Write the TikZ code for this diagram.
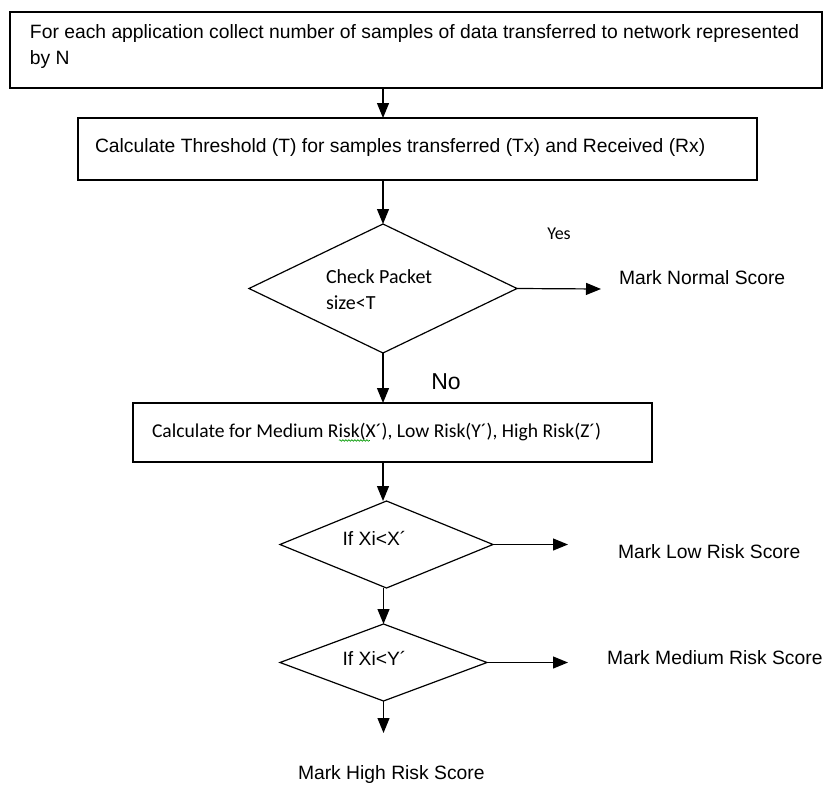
\documentclass[tikz,border=0pt]{standalone}
\usepackage{fontspec}
\setmainfont{Liberation Sans}
\newfontfamily\calib{Carlito}
\usetikzlibrary{arrows.meta,shapes.geometric,decorations.pathmorphing}
\begin{document}
\begin{tikzpicture}[x=1pt,y=-1pt,
  every node/.style={inner sep=0pt, outer sep=0pt},
  dec/.style={draw, diamond, line width=1.2pt, inner sep=0pt},
  box/.style={draw, line width=1.2pt},
  arr/.style={line width=1.2pt, -{Triangle[length=15pt,width=12pt]}},
  ar/.style={font=\fontsize{19.3}{22}\selectfont},
  lab/.style={ar, anchor=west}
]
\useasboundingbox (0,0) rectangle (823,787);
% boxes
\node[box, minimum width=812pt, minimum height=76pt] (b1) at (416,50) {};
\node[anchor=north west, align=left, font=\fontsize{19.3}{26}\selectfont] (t1) at (30,25) {For each application collect number of samples of data transferred to network represented\\by N};
\node[box, minimum width=679pt, minimum height=62pt] (b2) at (417.5,149) {};
\node[ar, anchor=west] (t2) at (95,147.5) {Calculate Threshold (T) for samples transferred (Tx) and Received (Rx)};
\node[box, minimum width=519pt, minimum height=59pt] (b3) at (392.5,432.5) {};
\node[anchor=west, font=\calib\fontsize{19.6}{22}\selectfont] (t3) at (152,432) {Calculate for Medium R\smash{\rlap{\tikz[baseline]\draw[green!60!black, line width=0.6pt, decorate, decoration={snake, amplitude=0.8pt, segment length=3pt}] (0,-3pt) -- (31pt,-3pt);}}isk(X´), Low Risk(Y´), High Risk(Z´)};
% diamonds
\node[dec, minimum width=268pt, minimum height=129pt] (d1) at (383,288.5) {};
\node[anchor=west, align=left, font=\calib\fontsize{20}{26}\selectfont] (t4) at (326,290) {Check Packet\\size<T};
\node[dec, minimum width=213pt, minimum height=87pt] (d2) at (386.5,544.5) {};
\node[ar] (t5) at (374.5,538) {If Xi<X´};
\node[dec, minimum width=207pt, minimum height=77pt] (d3) at (383.5,662.5) {};
\node[ar] (t6) at (374.5,658) {If Xi<Y´};
% labels
\node[font=\calib\fontsize{18}{20}\selectfont] (yes) at (559,234) {Yes};
\node[font=\fontsize{23}{26}\selectfont] (no) at (446,382) {No};
\node[lab] (m1) at (619,278) {Mark Normal Score};
\node[lab] (m2) at (618,551.5) {Mark Low Risk Score};
\node[lab] (m3) at (607,657.5) {Mark Medium Risk Score};
\node[lab] (m4) at (298,775) {Mark High Risk Score};
% free ends
\coordinate (e1) at (601,289);
\coordinate (e2) at (568,544.5);
\coordinate (e3) at (568,662.5);
\coordinate (e4) at (383.5,733);
% connectors
\draw[arr] (b1.south -| d1.north) -- (b2.north -| d1.north);
\draw[arr] (b2.south -| d1.north) -- (d1.north);
\draw[arr] (d1.east) -- (e1);
\draw[arr] (d1.south) -- (b3.north -| d1.south);
\draw[arr] (b3.south -| d1.south) -- (d2.north -| d1.south);
\draw[arr] (d2.east) -- (e2);
\draw[arr] (d2.south -| d3.north) -- (d3.north);
\draw[arr] (d3.east) -- (e3);
\draw[arr] (d3.south) -- (e4);
\end{tikzpicture}
\end{document}
